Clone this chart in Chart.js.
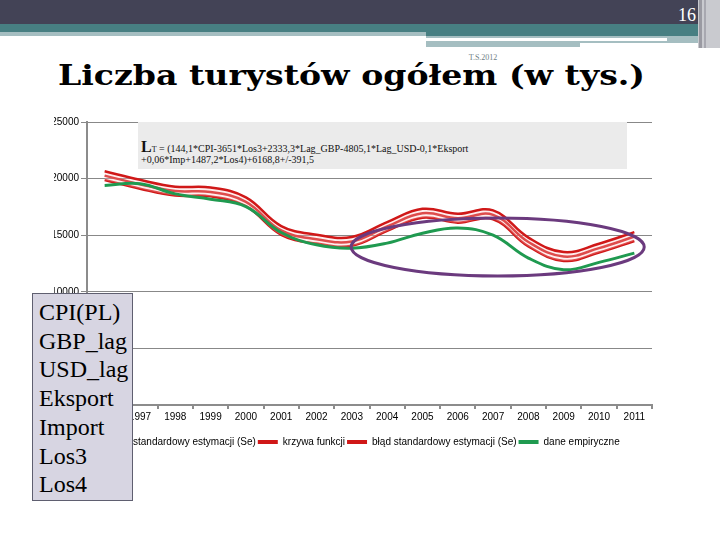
<!DOCTYPE html>
<html>
<head>
<meta charset="utf-8">
<script src="https://cdn.jsdelivr.net/npm/chart.js@4.4.1/dist/chart.umd.min.js"></script>
<style>
  body { margin: 0; width: 720px; height: 540px; position: relative; overflow: hidden; background: #fff; }
  #deco { position: absolute; left: 0; top: 0; z-index: 0; }
  #chart { position: absolute; left: 0; top: 0; z-index: 1; }
  #eq {
    position: absolute; left: 138px; top: 122px; width: 489px; height: 47px;
    background: #ebebeb; z-index: 2; font-family: 'Liberation Serif', serif; font-size: 10px; color: #111;
  }
  #eq div { position: absolute; left: 3px; white-space: nowrap; line-height: 12px; }
  #eq .l1 { top: 19px; }
  #eq .l2 { top: 32px; }
  #eq .big { font-size: 16px; font-weight: bold; line-height: 12px; }
  #vars {
    position: absolute; left: 32px; top: 293px; width: 101px; height: 208px;
    background: #d7d5e2; border: 1px solid #5f5f70; z-index: 2;
    font-family: 'Liberation Serif', serif; font-size: 24px; line-height: 28.7px; color: #000;
    padding: 4px 0 0 6px; box-sizing: border-box;
  }
</style>
</head>
<body>
<svg id="deco" width="720" height="540">
  <rect x="0" y="0" width="698" height="24" fill="#434356"/>
  <rect x="0" y="24" width="698" height="8" fill="#477f82"/>
  <rect x="0" y="32" width="426" height="4" fill="#a5bec1"/>
  <rect x="426" y="32" width="272" height="4" fill="#477f82"/>
  <rect x="426" y="36" width="272" height="7" fill="#a5bec1"/>
  <rect x="426" y="43" width="154" height="4" fill="#a5bec1"/>
  <rect x="426" y="38" width="241" height="3" fill="#ffffff"/>
  <rect x="698" y="0" width="22" height="48" fill="#c9cacf"/>
  <rect x="699" y="0" width="3" height="48" fill="#9a9aa2"/>
  <rect x="704" y="0" width="2" height="48" fill="#a8a8b0"/>
  <text x="687" y="21" fill="#fff" font-family="Liberation Serif" font-size="18" text-anchor="middle">16</text>
  <text x="483" y="60" fill="#6f8185" font-family="Liberation Serif" font-size="8" text-anchor="middle">T.S.2012</text>
  <text x="58" y="85" font-family="DejaVu Serif" font-weight="bold" font-size="27" textLength="587" lengthAdjust="spacingAndGlyphs">Liczba turystów ogółem (w tys.)</text>
</svg>
<canvas id="chart" width="720" height="540"></canvas>
<div id="eq">
  <div class="l1"><span class="big">L</span><span style="font-size:8px">T</span> = (144,1*CPI-3651*Los3+2333,3*Lag_GBP-4805,1*Lag_USD-0,1*Eksport</div>
  <div class="l2">+0,06*Imp+1487,2*Los4)+6168,8+/-391,5</div>
</div>
<div id="vars">CPI(PL)<br>GBP_lag<br>USD_lag<br>Eksport<br>Import<br>Los3<br>Los4</div>
<script>
const years = ['1996', '1997', '1998', '1999', '2000', '2001', '2002', '2003',
  '2004', '2005', '2006', '2007', '2008', '2009', '2010', '2011'];

// dane empiryczne
const empirical = [19400, 19550, 18650, 18180, 17530, 15240, 14150, 13850,
  14300, 15180, 15640, 15000, 12980, 11950, 12600, 13420];
// krzywa funkcji
const fitted = [20260, 19500, 18900, 18820, 17950, 15420, 14650, 14450,
  15770, 16940, 16500, 16800, 14400, 13120, 13860, 14880];
// błąd standardowy estymacji (Se), górna i dolna granica
const seUpper = [20650, 19890, 19290, 19210, 18340, 15810, 15040, 14840,
  16160, 17330, 16890, 17190, 14790, 13510, 14250, 15270];
const seLower = [19870, 19110, 18510, 18430, 17560, 15030, 14260, 14060,
  15380, 16550, 16110, 16410, 14010, 12730, 13470, 14490];

const yTicks = [0, 5000, 10000, 15000, 20000, 25000];

// purple ring drawn round the 2003-2011 part (category index / value bounds)
const ringX = [6.98, 15.28];
const ringY = [11400, 16520];

const red = '#d01818';
const green = '#1f9a50';
const axisGray = '#8c8c8c';

const ringPlugin = {
  id: 'ring',
  afterDatasetsDraw(chart) {
    const {ctx, scales: {x, y}} = chart;
    const x0 = x.getPixelForValue(ringX[0]);
    const x1 = x.getPixelForValue(ringX[1]);
    const y0 = y.getPixelForValue(ringY[1]);
    const y1 = y.getPixelForValue(ringY[0]);
    ctx.save();
    ctx.beginPath();
    ctx.ellipse((x0 + x1) / 2, (y0 + y1) / 2, (x1 - x0) / 2, (y1 - y0) / 2, 0, 0, Math.PI * 2);
    ctx.strokeStyle = '#6b3a7e';
    ctx.lineWidth = 3;
    ctx.stroke();
    ctx.restore();
  }
};

const lineStyle = {pointRadius: 0, tension: 0.4, borderWidth: 2.5};

new Chart(document.getElementById('chart').getContext('2d'), {
  type: 'line',
  data: {
    labels: years,
    datasets: [
      {label: 'błąd standardowy estymacji (Se)', data: seUpper, borderColor: red,
        backgroundColor: 'rgba(255,200,200,0.3)', fill: '+2', order: 1, ...lineStyle},
      {label: 'krzywa funkcji', data: fitted, borderColor: red, fill: false, order: 1, ...lineStyle},
      {label: 'błąd standardowy estymacji (Se)', data: seLower, borderColor: red, fill: false, order: 1, ...lineStyle},
      {label: 'dane empiryczne', data: empirical, borderColor: green, fill: false, order: 0, ...lineStyle, borderWidth: 3},
    ]
  },
  options: {
    responsive: false,
    animation: false,
    layout: {padding: {left: 54, right: 68, top: 122, bottom: 83}},
    scales: {
      x: {
        offset: true,
        grid: {offset: true, drawOnChartArea: false, tickLength: 4, color: axisGray, lineWidth: 2},
        border: {color: axisGray, width: 2},
        ticks: {color: '#000', padding: 2, font: {family: 'Liberation Sans', size: 10}, maxRotation: 0, autoSkip: false},
        afterFit(scale) { scale.height = 30; }
      },
      y: {
        min: 0, max: 25000,
        afterBuildTicks(scale) { scale.ticks = yTicks.map(v => ({value: v})); },
        grid: {color: '#888', lineWidth: 1, tickLength: 6},
        border: {color: axisGray, width: 2},
        ticks: {color: '#000', padding: 2, font: {family: 'Liberation Sans', size: 10}, callback: v => String(v)},
        afterFit(scale) { scale.width = 33; }
      }
    },
    plugins: {
      title: {display: false},
      tooltip: {enabled: false},
      legend: {
        position: 'bottom',
        labels: {
          boxWidth: 20, boxHeight: 4, padding: 2, color: '#000',
          font: {family: 'Liberation Sans', size: 10},
          generateLabels(chart) {
            return chart.data.datasets.map((ds, i) => ({
              text: ds.label, fillStyle: ds.borderColor, strokeStyle: ds.borderColor,
              lineWidth: 0, hidden: false, datasetIndex: i
            }));
          }
        }
      }
    }
  },
  plugins: [ringPlugin]
});
</script>
</body>
</html>
